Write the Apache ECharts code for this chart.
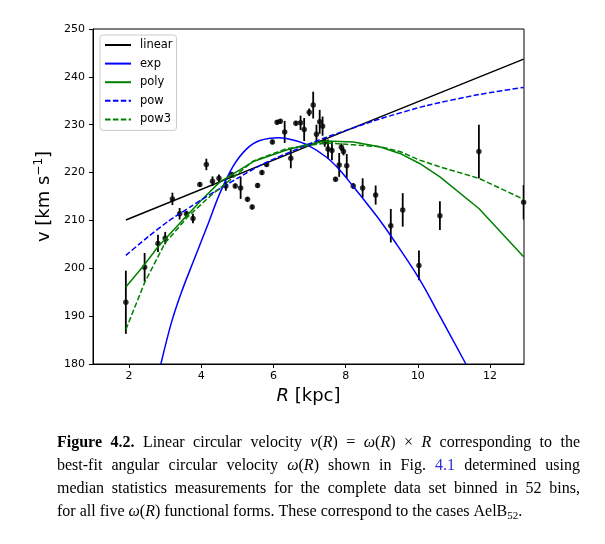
<!DOCTYPE html>
<html><head><meta charset="utf-8">
<script src="https://cdn.jsdelivr.net/npm/echarts@6/dist/echarts.min.js"></script>
<style>html,body{margin:0;padding:0;background:#fff}#c{width:605px;height:544px}</style>
</head><body><div id="c"></div>
<script>
// ---- measured bins (R in kpc, v in km/s, 1-sigma error) ----
const binR   = [1.91, 2.43, 2.80, 3.00, 3.20, 3.40, 3.59, 3.77, 3.96, 4.14, 4.31, 4.49, 4.68, 4.84, 4.94, 5.09, 5.28, 5.41, 5.56, 5.68, 5.81, 5.97, 6.10, 6.19, 6.31, 6.48, 6.62, 6.75, 6.85, 6.99, 7.10, 7.19, 7.28, 7.36, 7.42, 7.51, 7.62, 7.72, 7.82, 7.88, 7.94, 8.03, 8.21, 8.47, 8.83, 9.25, 9.58, 10.03, 10.61, 11.69, 12.93];
const binV   = [192.9, 200.2, 205.2, 206.3, 214.5, 211.4, 211.4, 210.4, 217.5, 221.7, 218.2, 218.8, 217.2, 219.6, 217.2, 216.8, 214.4, 212.8, 217.3, 220.0, 221.7, 226.4, 230.5, 230.7, 228.5, 223.0, 230.3, 230.4, 229.0, 232.6, 234.1, 228.0, 230.6, 229.7, 226.4, 224.9, 224.6, 218.6, 221.6, 225.3, 224.4, 221.4, 217.2, 216.8, 215.3, 208.9, 212.2, 200.6, 211.0, 224.4, 213.8];
const binErr = [6.6, 3.0, 1.8, 1.3, 1.3, 1.2, 0.6, 1.0, 0.5, 1.2, 1.0, 0.8, 1.0, 0.5, 0.5, 2.3, 0.5, 0.5, 0.5, 0.5, 0.5, 0.5, 0.5, 0.5, 2.3, 2.1, 0.5, 1.5, 2.4, 0.8, 2.8, 2.0, 2.5, 2.0, 1.0, 2.0, 2.0, 0.5, 2.5, 0.8, 0.8, 2.5, 0.6, 2.0, 2.0, 3.5, 3.5, 3.1, 3.0, 5.6, 3.6];

// ---- model curves ----
const linearR = [1.91, 7.5, 12.93];
const linearV = [210.1, 227.2, 243.7];
const expR = [2.88, 3.17, 3.45, 3.82, 4.19, 4.51, 4.88, 5.25, 5.62, 6.15, 6.54, 6.96, 7.47, 7.84, 8.21, 8.58, 8.94, 9.25, 10.03, 10.61, 11.33];
const expV = [180.0, 188.6, 195.0, 202.2, 209.3, 215.6, 221.3, 224.9, 226.7, 227.3, 226.8, 225.7, 223.2, 220.5, 217.1, 213.6, 210.1, 206.8, 197.9, 190.0, 180.0];
const polyR = [1.91, 2.43, 2.80, 3.45, 4.00, 4.51, 5.44, 6.36, 6.96, 7.47, 8.21, 8.94, 9.50, 10.05, 10.61, 11.69, 12.93];
const polyV = [196.1, 200.8, 204.5, 209.8, 214.2, 218.0, 222.3, 224.7, 225.9, 226.6, 226.4, 225.4, 224.0, 221.9, 219.1, 212.5, 202.4];
const powR = [1.91, 2.53, 3.08, 3.73, 4.37, 5.00, 5.71, 6.96, 7.47, 8.94, 10.24, 11.69, 12.93];
const powV = [202.7, 206.6, 209.8, 213.0, 216.0, 218.8, 221.8, 225.9, 227.4, 231.2, 234.0, 236.3, 237.8];
const pow3R = [1.91, 2.43, 2.99, 3.63, 4.28, 5.44, 6.36, 7.47, 8.21, 8.94, 9.50, 10.05, 10.61, 11.69, 12.93];
const pow3V = [187.2, 197.0, 205.2, 210.8, 215.3, 222.4, 225.0, 226.2, 225.8, 225.4, 224.4, 222.6, 221.2, 218.8, 214.4];

const xTicks = [2, 4, 6, 8, 10, 12];
const legendNames = ['linear', 'exp', 'poly', 'pow', 'pow3'];
const captionLines = [
  '{b|Figure} {b|4.2.} Linear circular velocity {i|v}({i|R}) = {i|ω}({i|R}) × {i|R} corresponding to the',
  'best-fit angular circular velocity {i|ω}({i|R}) shown in Fig. {blue|4.1} determined using',
  'median statistics measurements for the complete data set binned in 52 bins,',
  'for all five {i|ω}({i|R}) functional forms. These correspond to the cases AelB{sub|52}.'
];
const captionJustify = [true, true, true, false];

// ---- caption layout ----
const capFont = 16, capFamily = '"Liberation Serif","Times New Roman",serif';
const capLeft = 57, capRight = 580;
const capStyles = {
  n: {}, b: {fontWeight: 'bold'}, i: {fontStyle: 'italic'},
  blue: {fill: '#2f2fd3'}, sub: {fontSize: 11, lineHeight: 11, verticalAlign: 'bottom'}
};
const mctx = document.createElement('canvas').getContext('2d');
function fontStr(st) {
  return (st.fontStyle === 'italic' ? 'italic ' : '') + (st.fontWeight === 'bold' ? 'bold ' : '') +
    (st.fontSize || capFont) + 'px ' + capFamily;
}
function measure(style, text) { mctx.font = fontStr(capStyles[style]); return mctx.measureText(text).width; }
function parseWord(w) {
  const re = /\{(\w+)\|([^}]*)\}|([^{]+)/g; let m; const out = [];
  while ((m = re.exec(w))) { if (m[3]) out.push(['n', m[3]]); else out.push([m[1], m[2]]); }
  return out;
}
const richBase = {};
Object.keys(capStyles).forEach(k => {
  richBase[k] = Object.assign({fontSize: capFont, fontFamily: capFamily, fill: '#000', lineHeight: 20}, capStyles[k]);
});
const captionGraphics = captionLines.map((line, li) => {
  const words = line.split(' ').map(parseWord);
  let tokW = 0;
  words.forEach(w => w.forEach(t => { tokW += measure(t[0], t[1]); }));
  const nSp = words.length - 1;
  let spW = measure('n', ' ');
  if (captionJustify[li]) spW = (capRight - capLeft - tokW) / nSp;
  const rich = Object.assign({}, richBase);
  const spName = 'sp' + li;
  rich[spName] = {fontSize: capFont, fontFamily: capFamily, lineHeight: 20, width: spW};
  const txt = words.map(w => w.map(t => '{' + t[0] + '|' + t[1] + '}').join('')).join('{' + spName + '| }');
  return {
    type: 'text', left: capLeft, top: 435 + li * 23,
    style: {text: txt, rich: rich, fontSize: capFont, fontFamily: capFamily, fill: '#000'}
  };
});

// ---- chart ----
const chart = echarts.init(document.getElementById('c'), null, {renderer: 'canvas'});
const dash = [5.5, 2.4];
const curves = [
  {name: 'linear', R: linearR, V: linearV, color: '#000000', type: 'solid', smooth: false},
  {name: 'exp', R: expR, V: expV, color: '#0000ff', type: 'solid', smooth: 0.35},
  {name: 'poly', R: polyR, V: polyV, color: '#008000', type: 'solid', smooth: false},
  {name: 'pow', R: powR, V: powV, color: '#0000ff', type: dash, smooth: 0.2},
  {name: 'pow3', R: pow3R, V: pow3V, color: '#008000', type: dash, smooth: false}
];
const curveSeries = curves.map(c => ({
  type: 'line', name: c.name, data: c.R.map((r, i) => [r, c.V[i]]),
  symbol: 'none', showSymbol: false, clip: true, z: 4, smooth: c.smooth,
  lineStyle: {color: c.color, width: 1.5, type: c.type}, itemStyle: {color: c.color}
}));
const errData = binR.map((r, i) => [r, binV[i] - binErr[i], binV[i] + binErr[i]]);
const axisFont = {fontFamily: 'DejaVu Sans', color: '#000'};

chart.setOption({
  animation: false,
  backgroundColor: '#fff',
  grid: {left: 93, right: 81, top: 29, bottom: 180, show: true, borderColor: '#000', borderWidth: 1, containLabel: false},
  xAxis: {
    type: 'value', min: 1, max: 12.94,
    axisLine: {show: true, lineStyle: {color: '#000', width: 1}},
    axisTick: {show: true, inside: false, length: 4, customValues: xTicks, lineStyle: {color: '#000'}},
    axisLabel: Object.assign({fontSize: 11, margin: 7, customValues: xTicks}, axisFont),
    splitLine: {show: false},
    name: '{i|R} [kpc]', nameLocation: 'middle', nameGap: 23,
    nameTextStyle: {fontSize: 18, fontFamily: 'DejaVu Sans', color: '#000',
      rich: {i: {fontStyle: 'italic', fontSize: 18, fontFamily: 'DejaVu Sans', color: '#000'}}}
  },
  yAxis: {
    type: 'value', min: 180, max: 250, interval: 10,
    axisLine: {show: true, lineStyle: {color: '#000', width: 1}},
    axisTick: {show: true, inside: false, length: 4, lineStyle: {color: '#000'}},
    axisLabel: Object.assign({fontSize: 11, margin: 8}, axisFont),
    splitLine: {show: false},
    name: '{n|v [km s}{sup|−1}{n|]}', nameLocation: 'middle', nameGap: 35, nameRotate: 90,
    nameTextStyle: {
      rich: {
        n: {fontSize: 18, fontFamily: 'DejaVu Sans', color: '#000', lineHeight: 22},
        sup: {fontSize: 12, fontFamily: 'DejaVu Sans', color: '#000', lineHeight: 12, verticalAlign: 'top'}
      }
    }
  },
  legend: {
    data: legendNames, orient: 'vertical', left: 100, top: 35,
    padding: [4, 4, 5, 4], itemWidth: 26, itemHeight: 12, itemGap: 6.6,
    itemStyle: {opacity: 0},
    backgroundColor: 'rgba(255,255,255,0.8)', borderColor: '#cccccc', borderWidth: 1, borderRadius: 3,
    textStyle: {fontSize: 11.5, fontFamily: 'DejaVu Sans', color: '#000', padding: [0, 0, 0, 4]},
    selectedMode: false
  },
  graphic: captionGraphics,
  series: [
    {
      type: 'custom', name: 'err', data: errData, z: 2, clip: true,
      encode: {x: 0, y: [1, 2]},
      renderItem: (params, api) => {
        const p1 = api.coord([api.value(0), api.value(1)]);
        const p2 = api.coord([api.value(0), api.value(2)]);
        return {type: 'line', shape: {x1: p1[0], y1: p1[1], x2: p2[0], y2: p2[1]},
          style: {stroke: '#000', lineWidth: 1.8}};
      }
    },
    {
      type: 'scatter', name: 'data', data: binR.map((r, i) => [r, binV[i]]), z: 3,
      symbol: 'circle', symbolSize: 5.5, itemStyle: {color: '#000'}
    }
  ].concat(curveSeries)
});
</script></body></html>
